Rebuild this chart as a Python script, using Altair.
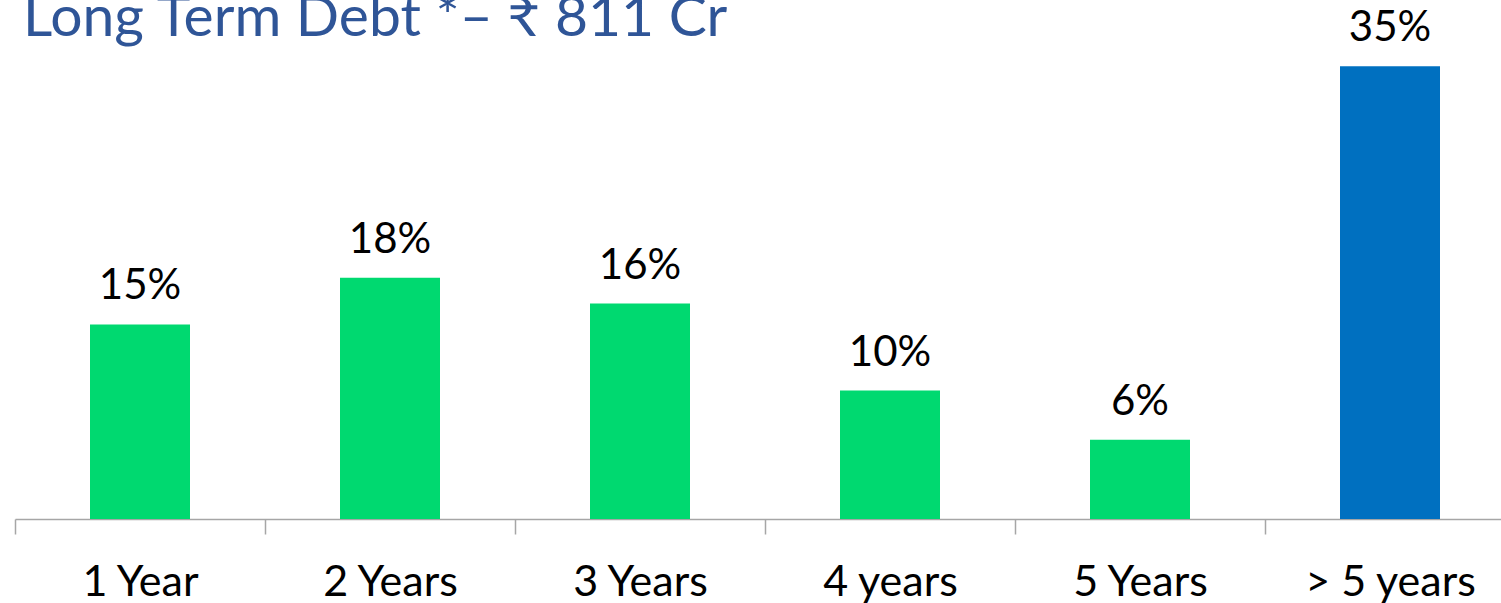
import altair as alt
import pandas as pd

categories = ["1 Year", "2 Years", "3 Years", "4 years", "5 Years", "> 5 years"]
values = [15.0, 18.6, 16.6, 9.9, 6.1, 34.9]
labels = ["15%", "18%", "16%", "10%", "6%", "35%"]
colors = ["#00D970", "#00D970", "#00D970", "#00D970", "#00D970", "#0070C0"]
title_text = "Long Term Debt *– ₹ 811 Cr"

df = pd.DataFrame({"cat": categories, "val": values, "lab": labels})

FONT = "Lato, DejaVu Sans, sans-serif"

x = alt.X(
    "cat:N",
    sort=categories,
    scale=alt.Scale(range=[0, 1500], paddingInner=0, paddingOuter=0),
    axis=alt.Axis(
        title=None,
        labelAngle=0,
        labelFont=FONT,
        labelFontSize=43,
        labelColor="#000000",
        labelBaseline="alphabetic",
        labelPadding=61,
        domainColor="#A6A6A6",
        domainWidth=1.5,
        tickColor="#A6A6A6",
        tickWidth=1.5,
        tickSize=15,
        tickBand="extent",
        grid=False,
    ),
)
y = alt.Y("val:Q", scale=alt.Scale(domain=[0, 40], nice=False), axis=None)

bars = alt.Chart(df).mark_bar(width=100).encode(
    x=x,
    y=y,
    color=alt.Color("cat:N", scale=alt.Scale(domain=categories, range=colors), legend=None),
)

text = alt.Chart(df).mark_text(
    dy=-25, baseline="alphabetic", font=FONT, fontSize=42, color="#000000"
).encode(x=x, y=y, text="lab:N")

title = alt.Chart(pd.DataFrame({"t": [title_text]})).mark_text(
    align="left", baseline="alphabetic", font=FONT, fontSize=57, color="#2F5597"
).encode(x=alt.value(8), y=alt.value(36), text="t:N")

chart = alt.layer(bars, text, title).properties(
    width=1486,
    height=519,
    autosize=alt.AutoSizeParams(type="none"),
    padding={"left": 15, "top": 0, "right": 0, "bottom": 84},
).configure_view(stroke=None)

chart.save("out.html", embed_options={"renderer": "svg", "actions": False})
